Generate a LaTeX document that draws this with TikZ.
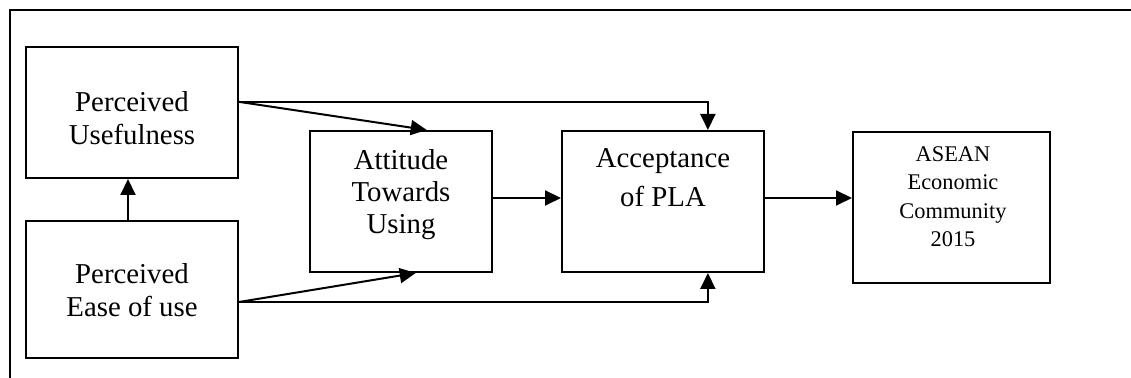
\documentclass[tikz,border=0pt]{standalone}
\usepackage{fontspec}
\setmainfont{Liberation Serif}
\usetikzlibrary{arrows.meta,calc}
\tikzset{
  box/.style={draw, line width=1pt, inner sep=0pt},
  txt/.style={align=center, inner sep=0pt, anchor=north, font=\fontsize{14.4}{16.5}\selectfont},
  link/.style={line width=1pt, -{Triangle[length=8pt,width=7.5pt]}},
}

\begin{document}
\begin{tikzpicture}[x=0.5pt,y=-0.5pt]
\useasboundingbox (0,0) rectangle (1131,378);

% frame
\draw[line width=0.6pt] (10,378) -- (10,10) -- (1131,10);

% boxes
\node[box, minimum width=106pt, minimum height=65.5pt] (pu) at (132,112.5) {};
\node[box, minimum width=106pt, minimum height=68.5pt] (pe) at (132,289.5) {};
\node[box, minimum width=91pt, minimum height=70.5pt] (atu) at (401,201.5) {};
\node[box, minimum width=101pt, minimum height=70.5pt] (apla) at (663,201.5) {};
\node[box, minimum width=98.5pt, minimum height=75.5pt] (aec) at (951.5,207.5) {};

% texts
\node[txt] (pu-txt) at (132,91) {Perceived\\Usefulness};
\node[txt] (pe-txt) at (132,263) {Perceived\\Ease of use};
\node[txt, font=\fontsize{14.4}{16}\selectfont] (atu-txt) at (401,149) {Attitude\\Towards\\Using};
\node[txt, font=\fontsize{14.4}{19.5}\selectfont] (apla-txt) at (663,148) {Acceptance\\of PLA};
\node[txt, font=\fontsize{11.2}{14.2}\selectfont] (aec-txt) at (953,146) {ASEAN\\Economic\\Community\\2015};

% links
\coordinate (pu-out) at ($(pu.north east)!0.42!(pu.south east)$);
\coordinate (pe-out) at ($(pe.north east)!0.59!(pe.south east)$);
\draw[link] ([xshift=-2pt]pe.north) -- ([xshift=-2pt]pu.south);
\draw[link] (pu-out) -- ($(atu.north west)!0.64!(atu.north east)$);
\draw[link] (pe-out) -- ($(atu.south west)!0.58!(atu.south east)$);
\draw[link] (pu-out) -| ($(apla.north west)!0.72!(apla.north east)$);
\draw[link] (pe-out) -| ($(apla.south west)!0.72!(apla.south east)$);
\draw[link] ([yshift=1.75pt]atu.east) coordinate (atu-out) -- (atu-out -| apla.west);
\draw[link] ([yshift=1.75pt]apla.east) coordinate (apla-out) -- (apla-out -| aec.west);
\end{tikzpicture}
\end{document}
